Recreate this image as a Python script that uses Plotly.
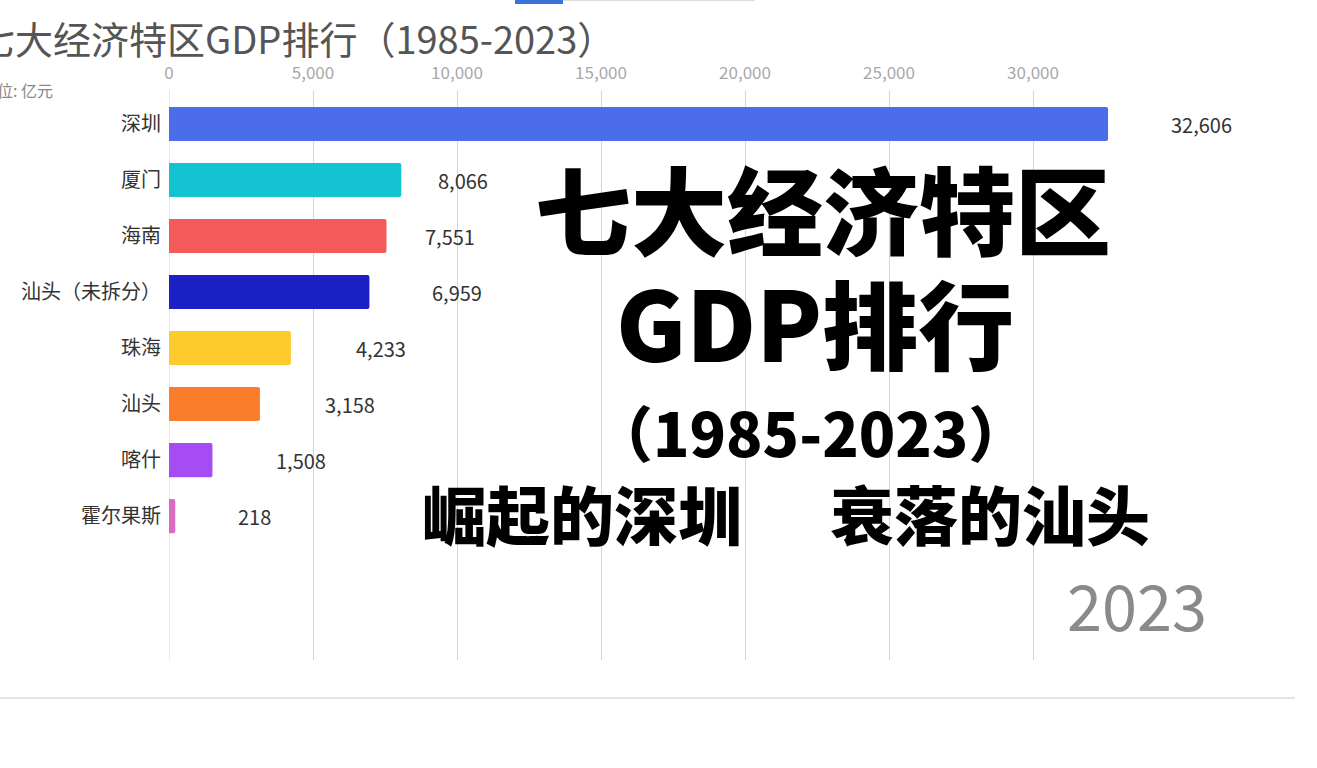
import plotly.graph_objects as go

# ---- data ----
cities = ["深圳", "厦门", "海南", "汕头（未拆分）", "珠海", "汕头", "喀什", "霍尔果斯"]
gdp = [32606, 8066, 7551, 6959, 4233, 3158, 1508, 218]
colors = ["#4B6CEB", "#14C3D1", "#F45A5A", "#1B21C4", "#FDCA2C", "#FA7D2B", "#A64CF5", "#DA6CC2"]
x_ticks = [0, 5000, 10000, 15000, 20000, 25000, 30000]
year_label = "2023"

# label pixel offsets after bar end (animation lag in original)
label_shift = [63, 37, 39, 63, 65, 65, 64, 63]

W, H = 1317, 768
ML, MR, MT, MB = 169, 48, 90, 108
plot_w = W - ML - MR
px_per_unit = 864 / 30000.0
xmax = plot_w / px_per_unit

FONT = "Noto Sans CJK SC"

fig = go.Figure()
fig.add_trace(go.Bar(
    x=gdp, y=cities, orientation="h",
    marker=dict(color=colors, line=dict(width=0), cornerradius=2),
    width=0.61, hoverinfo="skip",
))

def px_to_paper_x(px):
    return (px - ML) / plot_w

def py_to_paper_y(py):
    return (H - MB - py) / (H - MT - MB)

annotations = []
for c, v, s in zip(cities, gdp, label_shift):
    annotations.append(dict(
        x=v, y=c, xref="x", yref="y", text=f"{v:,}", showarrow=False,
        xanchor="left", xshift=s - 2, font=dict(family=FONT, size=20, color="#333333"),
    ))

# title (cut off at left)
annotations.append(dict(
    x=px_to_paper_x(-25), y=py_to_paper_y(38), xref="paper", yref="paper",
    text="七大经济特区GDP排行（1985-2023）", showarrow=False, xanchor="left", yanchor="middle",
    font=dict(family=FONT, size=38, color="#555555"),
))
annotations.append(dict(
    x=px_to_paper_x(55), y=py_to_paper_y(90), xref="paper", yref="paper",
    text="单位: 亿元", showarrow=False, xanchor="right", yanchor="middle",
    font=dict(family=FONT, size=16, color="#888888"),
))

# overlay big text
big = [
    ("七大经济特区", 823, 206, 96),
    ("GDP排行", 815, 320, 96),
    ("（1985-2023）", 810, 430, 60),
    ("崛起的深圳", 582, 512, 64),
    ("衰落的汕头", 990, 512, 64),
]
for t, cx, cy, sz in big:
    annotations.append(dict(
        x=px_to_paper_x(cx), y=py_to_paper_y(cy), xref="paper", yref="paper",
        text=t, showarrow=False, xanchor="center", yanchor="middle",
        font=dict(family=FONT, size=sz, color="#000000", weight=900),
    ))

annotations.append(dict(
    x=px_to_paper_x(1209), y=py_to_paper_y(603), xref="paper", yref="paper",
    text=year_label, showarrow=False, xanchor="right", yanchor="middle",
    font=dict(family=FONT, size=63, color="#8a8a8a"),
))

shapes = [
    dict(type="line", xref="paper", yref="paper",
         x0=px_to_paper_x(0), x1=px_to_paper_x(1295),
         y0=py_to_paper_y(698), y1=py_to_paper_y(698),
         line=dict(color="#e3e3e3", width=2)),
    dict(type="rect", xref="paper", yref="paper",
         x0=px_to_paper_x(515), x1=px_to_paper_x(563),
         y0=py_to_paper_y(4), y1=py_to_paper_y(-2),
         line=dict(width=0), fillcolor="#3A74DA"),
    dict(type="line", xref="paper", yref="paper",
         x0=px_to_paper_x(563), x1=px_to_paper_x(755),
         y0=py_to_paper_y(0.5), y1=py_to_paper_y(0.5),
         line=dict(color="#dddddd", width=1)),
]

fig.update_layout(
    width=W, height=H,
    margin=dict(l=ML, r=MR, t=MT, b=MB, autoexpand=False),
    paper_bgcolor="white", plot_bgcolor="white",
    showlegend=False,
    annotations=annotations,
    shapes=shapes,
    xaxis=dict(
        side="top", range=[0, xmax], tickvals=x_ticks,
        ticktext=[f"{t:,}" for t in x_ticks],
        showgrid=True, gridcolor="#d6d6d6", gridwidth=1,
        zeroline=False, showline=False, ticks="",
        tickfont=dict(family=FONT, size=17, color="#a8a8a8"),
        ticklabelstandoff=7, fixedrange=True,
    ),
    yaxis=dict(
        range=[9.57, -0.607], categoryorder="array", categoryarray=cities,
        showgrid=False, zeroline=False, showline=False, ticks="",
        tickfont=dict(family=FONT, size=20, color="#333333"),
        ticklabelstandoff=7, fixedrange=True,
    ),
)
fig.add_vline(x=0, line=dict(color="#cfcfcf", width=1), layer="below")

fig.write_html("out.html")
